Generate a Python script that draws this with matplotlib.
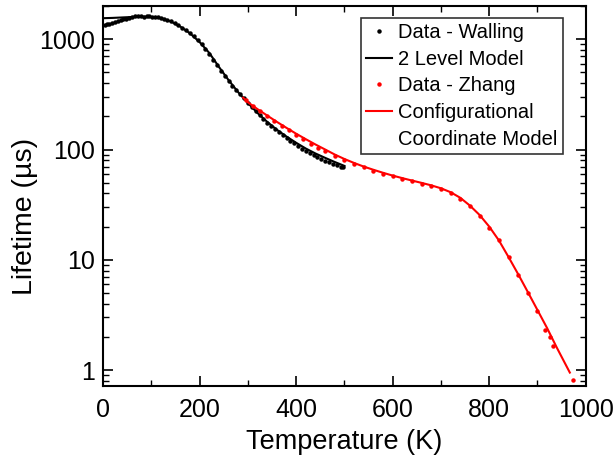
import numpy as np
import matplotlib
matplotlib.use('Agg')
import matplotlib.pyplot as plt
from matplotlib.ticker import LogLocator, MultipleLocator, FixedLocator, FixedFormatter, NullFormatter

plt.rcParams['font.family'] = ['Liberation Sans', 'DejaVu Sans']

# Walling data (black dots)
walling_T = [3, 8, 13, 18, 24, 30, 36, 42, 48, 54, 60, 66, 72, 78, 84, 90, 96,
             102, 108, 114, 120, 126, 132, 140, 148, 156, 164, 172, 180, 188,
             196, 204, 212, 220, 228, 236, 244, 252, 260, 268, 276, 284, 292,
             300, 308, 316, 324, 332, 340, 348, 356, 364, 372, 380, 388, 396,
             404, 412, 420, 428, 436, 444, 452, 460, 468, 476, 484, 492, 498]
walling_tau = [1340, 1360, 1385, 1405, 1435, 1460, 1490, 1515, 1540, 1565, 1590,
               1625, 1630, 1620, 1605, 1615, 1610, 1600, 1605, 1595, 1560, 1535,
               1500, 1450, 1400, 1340, 1270, 1210, 1140, 1060, 980, 900, 820,
               740, 650, 580, 520, 460, 415, 380, 345, 318, 290, 265, 245, 224,
               204, 188, 174, 164, 152, 144, 136, 126, 119, 114, 108, 102, 97,
               93, 89, 85, 82, 79, 77, 74, 72, 70, 69]

# 2 level model (black line)
two_level_T = [0, 20, 40, 60, 80, 100, 120, 140, 160, 180, 200, 220, 240, 260,
               280, 300, 320, 340, 360, 380, 400, 420, 440, 460, 480, 500]
two_level_tau = [1550, 1560, 1575, 1590, 1600, 1590, 1550, 1450, 1300, 1130, 940,
                 750, 560, 425, 330, 264, 214, 178, 151, 131, 115, 102, 92, 84,
                 77, 71]

# Zhang data (red dots)
zhang_T = [295, 310, 325, 340, 355, 370, 385, 400, 415, 430, 445, 460, 480, 500,
           520, 540, 560, 580, 600, 620, 640, 660, 680, 700, 720, 740, 760, 780,
           800, 820, 840, 860, 880, 900, 915, 925, 932, 973]
zhang_tau = [280, 250, 224, 202, 182, 164, 149, 136, 124, 113, 104, 96, 88, 80,
             74, 69, 64.5, 60.5, 57, 54, 51.5, 49, 46.5, 43.5, 40, 35.5, 30.5,
             25, 19.5, 15, 10.5, 7.3, 5.0, 3.4, 2.3, 2.0, 1.65, 0.82]

# Configurational coordinate model (red line)
cc_T = [290, 300, 320, 340, 360, 380, 400, 420, 440, 460, 480, 500, 520, 540,
        560, 580, 600, 620, 640, 660, 680, 700, 720, 740, 760, 780, 800, 820,
        840, 860, 880, 900, 920, 940, 967]
cc_tau = [295, 268, 232, 203, 178, 157, 139, 124, 111, 100, 90, 82, 75.5, 70,
          65.5, 61.5, 58, 55, 52.3, 49.8, 47.3, 44.5, 41, 36.5, 31, 25.5, 20,
          15, 10.6, 7.4, 5.1, 3.5, 2.4, 1.6, 0.95]

fig = plt.figure(figsize=(6.14, 4.61), dpi=100)
ax = fig.add_axes([0.168, 0.163, 0.786, 0.824])

ax.plot(walling_T, walling_tau, 'o', color='black', markersize=2.2, label='Data - Walling')
ax.plot(two_level_T, two_level_tau, '-', color='black', linewidth=1.5, label='2 Level Model')
ax.plot(zhang_T, zhang_tau, 'o', color='red', markersize=2.2, label='Data - Zhang')
ax.plot(cc_T, cc_tau, '-', color='red', linewidth=1.5, label='Configurational')
# second line of the last legend label, no handle
ax.plot([], [], ' ', label='Coordinate Model')

ax.set_yscale('log')
ax.set_xlim(0, 1000)
ax.set_ylim(0.72, 2000)

ax.xaxis.set_major_locator(MultipleLocator(200))
ax.xaxis.set_minor_locator(MultipleLocator(100))
ax.yaxis.set_major_locator(FixedLocator([1, 10, 100, 1000]))
ax.yaxis.set_major_formatter(FixedFormatter(['1', '10', '100', '1000']))
ax.yaxis.set_minor_locator(LogLocator(base=10, subs=np.arange(2, 10), numticks=20))
ax.yaxis.set_minor_formatter(NullFormatter())

ax.tick_params(which='both', direction='in', top=True, right=True, labelsize=18)
ax.tick_params(which='major', length=7, width=1.2)
ax.tick_params(which='minor', length=4, width=1.0)
ax.tick_params(axis='x', which='major', pad=9)
ax.tick_params(axis='y', which='major', pad=6)
for s in ax.spines.values():
    s.set_linewidth(1.5)

ax.set_xlabel('Temperature (K)', fontsize=19.5, labelpad=5)
ax.set_ylabel('Lifetime (µs)', fontsize=20.5)
ax.yaxis.set_label_coords(-0.135, 0.445)

leg = ax.legend(loc='upper right', bbox_to_anchor=(0.952, 0.968), borderaxespad=0,
                fontsize=14.5, frameon=True, fancybox=False, edgecolor='black',
                handlelength=1.3, handletextpad=0.3, labelspacing=0.38,
                borderpad=0.25, markerscale=1.0)
leg.get_frame().set_linewidth(1.2)

fig.savefig('out.png', dpi=100)
